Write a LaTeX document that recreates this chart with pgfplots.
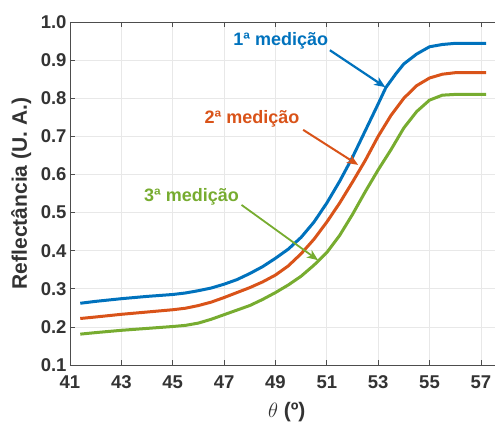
\documentclass[border=0pt]{standalone}
\usepackage{fontspec}
\setmainfont{Liberation Sans}
\usepackage{pgfplots}
\pgfplotsset{compat=1.18}
\usetikzlibrary{arrows.meta}
\definecolor{mblue}{HTML}{0072BD}
\definecolor{morange}{HTML}{D95319}
\definecolor{mgreen}{HTML}{77AC30}
\definecolor{axgray}{HTML}{4D4D4D}
\definecolor{txtgray}{HTML}{333333}
\begin{document}
\begin{tikzpicture}
\begin{axis}[
  name=ax,
  scale only axis,
  width=425bp, height=343bp,
  xmin=41, xmax=57.55, ymin=0.1, ymax=1.0,
  xtick={41,43,...,57},
  ytick={0.1,0.2,...,1.0},
  xtick pos=both, ytick pos=left,
  tick align=inside,
  major tick length=5bp,
  every tick/.style={axgray, line width=0.6bp},
  axis line style={axgray, line width=0.8bp},
  grid=major,
  major grid style={gray!18, line width=0.6bp},
  /pgf/number format/assume math mode=true,
  ticklabel style={font=\fontsize{18.5bp}{22bp}\selectfont\bfseries, text=txtgray},
  yticklabel style={/pgf/number format/.cd, fixed, fixed zerofill, precision=1},
  xticklabel style={yshift=-7bp},
  xlabel={$\theta$ \textbf{(º)}},
  ylabel={Reflectância (U. A.)},
  label style={font=\fontsize{21bp}{25bp}\selectfont\bfseries, text=txtgray},
  xlabel style={at={(axis description cs:0.51,-0.1545)}, anchor=base},
  ylabel style={at={(axis description cs:-0.1012,0.5)}, anchor=base},
  clip=false,
]
\addplot[mblue, line width=3bp, line join=round] coordinates {
(41.4,0.262) (42,0.267) (43,0.274) (44,0.280) (45,0.285) (45.5,0.289)
(46,0.295) (46.5,0.302) (47,0.312) (47.5,0.324) (48,0.340) (48.5,0.358)
(49,0.380) (49.5,0.404) (50,0.435) (50.5,0.475) (51,0.525) (51.5,0.582)
(52,0.645) (52.5,0.715) (53,0.785) (53.3,0.828) (53.7,0.865) (54,0.890)
(54.5,0.916) (55,0.935) (55.5,0.941) (56,0.944) (57.2,0.944)
};
\addplot[morange, line width=3bp, line join=round] coordinates {
(41.4,0.222) (42,0.226) (43,0.233) (44,0.239) (45,0.245) (45.5,0.249)
(46,0.256) (46.5,0.265) (47,0.277) (47.5,0.290) (48,0.303) (48.5,0.318)
(49,0.336) (49.5,0.360) (50,0.392) (50.5,0.430) (51,0.475) (51.5,0.525)
(52,0.580) (52.5,0.637) (53,0.700) (53.5,0.755) (54,0.800) (54.5,0.833)
(55,0.853) (55.5,0.863) (56,0.867) (57.2,0.867)
};
\addplot[mgreen, line width=3bp, line join=round] coordinates {
(41.4,0.181) (42,0.185) (43,0.191) (44,0.196) (45,0.201) (45.5,0.204)
(46,0.210) (46.5,0.220) (47,0.232) (47.5,0.244) (48,0.256) (48.5,0.272)
(49,0.290) (49.5,0.310) (50,0.333) (50.5,0.362) (51,0.395) (51.5,0.440)
(52,0.495) (52.5,0.555) (53,0.612) (53.5,0.665) (54,0.722) (54.5,0.765)
(55,0.795) (55.5,0.808) (56,0.810) (57.2,0.810)
};
\draw[mblue, line width=2.2bp, -{Stealth[length=11bp,width=9bp,inset=3bp]}] (axis cs:51.12,0.926) -- (axis cs:53.28,0.829);
\draw[morange, line width=2bp, -{Stealth[length=11bp,width=9bp,inset=3bp]}] (axis cs:50.08,0.717) -- (axis cs:52.22,0.625);
\draw[mgreen, line width=1.8bp, -{Stealth[length=11bp,width=9bp,inset=3bp]}] (axis cs:47.68,0.520) -- (axis cs:50.66,0.375);
\node[anchor=base, text=mblue, font=\fontsize{18bp}{22bp}\selectfont\bfseries] at (axis cs:49.21,0.9396) {1ª medição};
\node[anchor=base, text=morange, font=\fontsize{18bp}{22bp}\selectfont\bfseries] at (axis cs:48.09,0.734) {2ª medição};
\node[anchor=base, text=mgreen, font=\fontsize{18bp}{22bp}\selectfont\bfseries] at (axis cs:45.73,0.530) {3ª medição};
\end{axis}
\pgfresetboundingbox
\path[use as bounding box] ([xshift=-70bp,yshift=-61bp]ax.south west) rectangle ([yshift=22bp]ax.north east);
\end{tikzpicture}
\end{document}
